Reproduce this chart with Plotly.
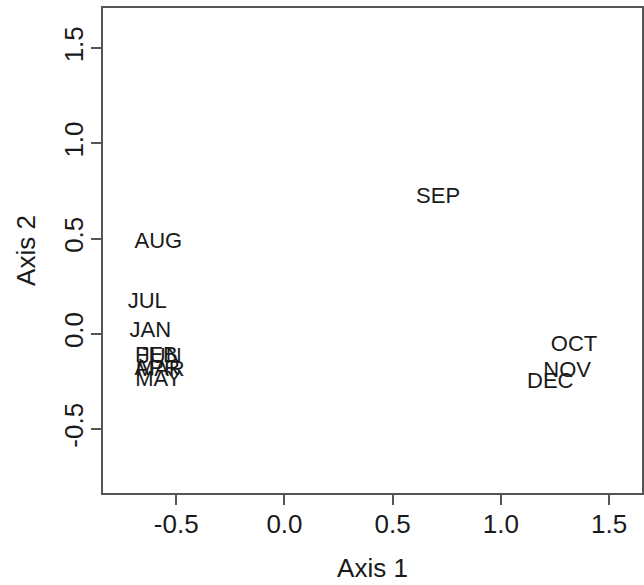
import plotly.graph_objects as go

months = ["JAN", "FEB", "MAR", "APR", "MAY", "JUN", "JUL", "AUG", "SEP", "OCT", "NOV", "DEC"]
axis1 = [-0.620, -0.592, -0.574, -0.588, -0.583, -0.574, -0.634, -0.583, 0.710, 1.338, 1.306, 1.228]
axis2 = [0.012, -0.121, -0.194, -0.189, -0.247, -0.126, 0.164, 0.478, 0.714, -0.063, -0.199, -0.257]

x_ticks = [-0.5, 0.0, 0.5, 1.0, 1.5]
y_ticks = [-0.5, 0.0, 0.5, 1.0, 1.5]
x_range = [-0.8386, 1.652]
y_range = [-0.835, 1.711]

FONT = "Liberation Sans, Arial, sans-serif"
LINE = "#555555"

fig = go.Figure(go.Scatter(
    x=axis1, y=axis2, text=months, mode="text",
    textposition="middle center",
    textfont=dict(family=FONT, size=22, color="#1a1a1a"),
    hoverinfo="skip", showlegend=False,
))

common = dict(
    showgrid=False, zeroline=False, showline=True, mirror=True,
    linecolor=LINE, linewidth=1.5,
    ticks="outside", ticklen=10, tickwidth=1.5, tickcolor=LINE,
    tickfont=dict(family=FONT, size=26, color="#1a1a1a"),
    automargin=False,
)

fig.update_xaxes(
    range=x_range, tickvals=x_ticks, ticktext=[f"{v:.1f}" for v in x_ticks],
    title=dict(text="Axis 1", font=dict(family=FONT, size=26, color="#1a1a1a"), standoff=21),
    ticklabelstandoff=-3,
    **common,
)
fig.update_yaxes(
    range=y_range, tickvals=y_ticks, ticktext=[f"{v:.1f}" for v in y_ticks],
    tickangle=-90,
    title=dict(text="Axis 2", font=dict(family=FONT, size=26, color="#1a1a1a"), standoff=16),
    ticklabelstandoff=-2,
    **common,
)

fig.update_layout(
    width=644, height=585,
    margin=dict(l=103, r=2, t=8, b=92),
    paper_bgcolor="white", plot_bgcolor="white",
)

fig.write_html("out.html")
